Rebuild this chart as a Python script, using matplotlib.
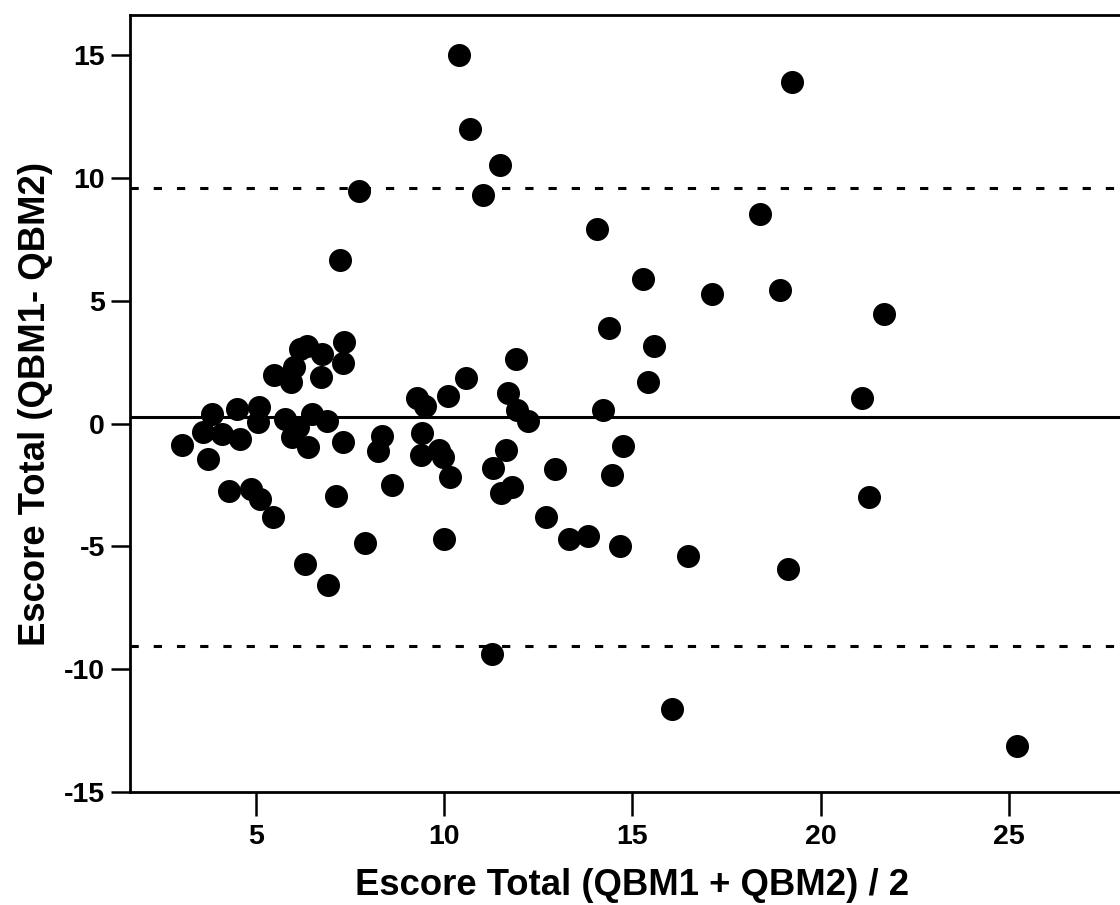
import matplotlib
matplotlib.use("Agg")
import matplotlib.pyplot as plt

plt.rcParams["font.family"] = ["Liberation Sans", "DejaVu Sans"]
plt.rcParams["font.weight"] = "bold"
plt.rcParams["axes.unicode_minus"] = False

# Bland-Altman: mean of the two scores vs difference
media = [
    3.03, 3.82, 3.60, 4.09, 3.73, 4.58, 4.50, 5.09, 5.06, 5.77,
    6.48, 6.88, 5.95, 6.39, 6.12, 4.28, 4.87, 5.11, 5.44, 7.11,
    7.31, 6.30, 6.92, 7.90, 8.60, 8.35, 8.25, 5.48, 5.92, 6.01,
    6.17, 6.35, 6.74, 6.73, 7.34, 7.30, 7.22, 7.74, 10.39, 10.69,
    11.47, 11.04, 9.28, 9.50, 10.11, 10.58, 11.70, 11.91, 11.92, 12.22,
    9.40, 9.37, 9.87, 9.97, 10.15, 10.00, 11.63, 11.29, 11.80, 11.51,
    12.93, 12.69, 13.30, 13.82, 14.68, 14.46, 14.74, 14.22, 14.37, 15.57,
    15.42, 14.06, 15.28, 17.10, 18.92, 18.39, 19.23, 21.69, 21.11, 21.28,
    16.47, 19.12, 11.27, 16.06, 25.21,
]
diferenca = [
    -0.86, 0.40, -0.35, -0.42, -1.44, -0.62, 0.60, 0.66, 0.05, 0.19,
    0.40, 0.10, -0.56, -0.97, -0.15, -2.73, -2.66, -3.07, -3.79, -2.94,
    -0.77, -5.70, -6.58, -4.88, -2.50, -0.49, -1.10, 1.99, 1.71, 2.32,
    3.05, 3.16, 2.84, 1.88, 3.32, 2.47, 6.65, 9.46, 15.00, 11.99,
    10.52, 9.29, 1.03, 0.73, 1.11, 1.84, 1.24, 2.64, 0.55, 0.09,
    -0.38, -1.30, -1.06, -1.37, -2.19, -4.72, -1.07, -1.83, -2.58, -2.83,
    -1.86, -3.79, -4.72, -4.58, -5.00, -2.10, -0.91, 0.55, 3.90, 3.14,
    1.70, 7.90, 5.88, 5.28, 5.42, 8.52, 13.91, 4.47, 1.05, -2.98,
    -5.41, -5.91, -9.38, -11.62, -13.13,
]

media_dif = 0.28
limite_sup = 9.60
limite_inf = -9.05

x_ticks = [5, 10, 15, 20, 25]
y_ticks = [-15, -10, -5, 0, 5, 10, 15]

fig = plt.figure(figsize=(11.2, 9.05), dpi=100)
ax = fig.add_axes([130 / 1120, 113 / 905, 1005 / 1120, 777 / 905])

ax.scatter(media, diferenca, s=275, color="black", linewidths=0, zorder=3)

ax.axhline(media_dif, color="black", lw=2.2, zorder=2)
for lim in (limite_sup, limite_inf):
    ax.axhline(lim, color="black", lw=2.2, linestyle=(0, (2.7, 4.9)), zorder=2)

ax.set_xlim(1.65, 28.35)
ax.set_ylim(-15, 16.63)
ax.set_xticks(x_ticks)
ax.set_yticks(y_ticks)

for s in ax.spines.values():
    s.set_linewidth(2.0)

ax.tick_params(axis="both", direction="out", width=1.8, labelsize=20.5)
ax.tick_params(axis="x", length=17, pad=6)
ax.tick_params(axis="y", length=14, pad=4)

ax.set_xlabel("Escore Total (QBM1 + QBM2) / 2", fontsize=26.3, fontweight="bold", labelpad=13)
ax.set_ylabel("Escore Total (QBM1- QBM2)", fontsize=26.3, fontweight="bold", labelpad=8)

fig.savefig("out.png", dpi=100)
